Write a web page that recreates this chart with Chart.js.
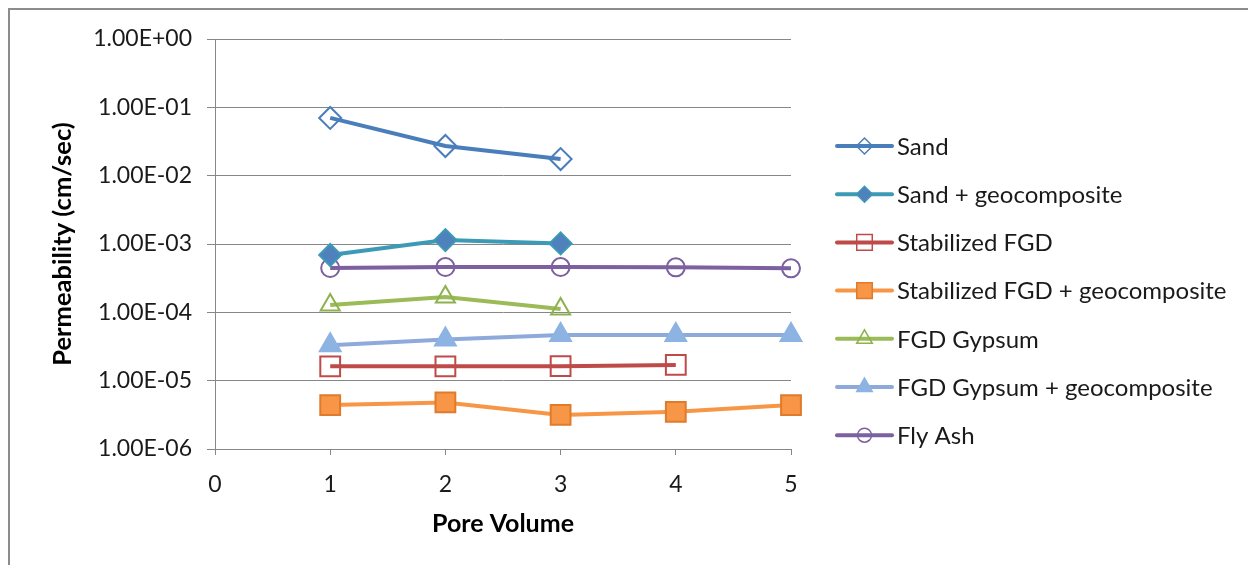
<!DOCTYPE html>
<html>
<head>
<meta charset="utf-8">
<script src="https://cdn.jsdelivr.net/npm/chart.js@4/dist/chart.umd.min.js"></script>
<style>
  body { margin: 0; background: #fff; }
  #wrap { position: relative; width: 1248px; height: 565px; overflow: hidden; }
  #frame { position: absolute; left: 8px; top: 8px; width: 1300px; height: 600px;
           border-top: 2px solid #8c8c8c; border-left: 2px solid #8c8c8c; }
  canvas { position: absolute; left: 0; top: 0; }
</style>
</head>
<body>
<div id="wrap">
  <div id="frame"></div>
  <canvas id="myChart" width="1248" height="565"></canvas>
</div>
<script>
// pore volume on the x axis
const poreVolume = [1, 2, 3, 4, 5]

// permeability values (cm/sec)
const sand = [7.0e-2, 2.72e-2, 1.75e-2]
const sandGeo = [6.9e-4, 1.14e-3, 1.02e-3]
const stabFGD = [1.62e-5, 1.62e-5, 1.63e-5, 1.70e-5]
const stabFGDGeo = [4.4e-6, 4.8e-6, 3.15e-6, 3.5e-6, 4.4e-6]
const fgdGypsum = [1.28e-4, 1.68e-4, 1.12e-4]
const fgdGypsumGeo = [3.3e-5, 4.0e-5, 4.65e-5, 4.65e-5, 4.65e-5]
const flyAsh = [4.45e-4, 4.6e-4, 4.6e-4, 4.55e-4, 4.4e-4]

const seriesNames = ["Sand", "Sand + geocomposite", "Stabilized FGD", "Stabilized FGD + geocomposite",
    "FGD Gypsum", "FGD Gypsum + geocomposite", "Fly Ash"]

const yTickValues = [1e-6, 1e-5, 1e-4, 1e-3, 1e-2, 1e-1, 1]
const yTickLabels = ["1.00E-06", "1.00E-05", "1.00E-04", "1.00E-03", "1.00E-02", "1.00E-01", "1.00E+00"]

const FONT = "Lato, 'Liberation Sans', sans-serif"
const HOLLOW = "rgba(255,255,255,0)"

function pts(arr) {
    return arr.map((v, i) => ({ x: poreVolume[i], y: v }))
}

// style per series: line colour, marker, marker fill, marker border, marker size
const looks = [
    { line: "#4a7ebb", style: "rectRot", fill: HOLLOW, edge: "#4a7ebb", r: 11, lr: 8 },
    { line: "#3c9ab5", style: "rectRot", fill: "#4f81bd", edge: "#3c9ab5", r: 11, lr: 8 },
    { line: "#be4b48", style: "rect", fill: HOLLOW, edge: "#be4b48", r: 14, lr: 11 },
    { line: "#f79646", style: "rect", fill: "#f79646", edge: "#e07b2c", r: 14, lr: 11 },
    { line: "#9bbb59", style: "triangle", fill: HOLLOW, edge: "#8db14c", r: 11, lr: 9 },
    { line: "#8eaadb", style: "triangle", fill: "#8db3e2", edge: "#8db3e2", r: 12, lr: 9 },
    { line: "#7d60a0", style: "circle", fill: HOLLOW, edge: "#7d60a0", r: 9, lr: 7 },
]

const seriesData = [sand, sandGeo, stabFGD, stabFGDGeo, fgdGypsum, fgdGypsumGeo, flyAsh]

const datasets = seriesData.map((d, i) => ({
    label: seriesNames[i],
    data: pts(d),
    borderColor: looks[i].line,
    borderWidth: 4,
    pointStyle: looks[i].style,
    pointRadius: looks[i].r,
    pointBackgroundColor: looks[i].fill,
    pointBorderColor: looks[i].edge,
    pointBorderWidth: 2,
    tension: 0,
    clip: false,
}))

// legend drawn by hand: a line with the marker on it, then the name
const legendPlugin = {
    id: "lineLegend",
    afterDraw(chart) {
        const ctx = chart.ctx
        const x0 = 837, x1 = 892, top = 146, step = 48.2
        ctx.save()
        ctx.font = "24px " + FONT
        ctx.textBaseline = "middle"
        chart.data.datasets.forEach((ds, i) => {
            const y = top + i * step
            ctx.strokeStyle = looks[i].line
            ctx.lineWidth = 4
            ctx.lineCap = "round"
            ctx.beginPath()
            ctx.moveTo(x0, y)
            ctx.lineTo(x1, y)
            ctx.stroke()
            ctx.fillStyle = looks[i].fill
            ctx.strokeStyle = looks[i].edge
            ctx.lineWidth = 1.5
            Chart.helpers.drawPoint(ctx, { pointStyle: looks[i].style, radius: looks[i].lr, borderWidth: 1.5, rotation: 0 }, (x0 + x1) / 2, y)
            ctx.fillStyle = "#1a1a1a"
            ctx.fillText(ds.label, 897, y + 1)
        })
        ctx.restore()
    }
}

const ctx = document.getElementById("myChart")

new Chart(ctx, {
    type: "line",
    data: { datasets: datasets },
    plugins: [legendPlugin],
    options: {
        responsive: false,
        animation: false,
        layout: { padding: { top: 39, right: 457, left: 0, bottom: 0 } },
        plugins: {
            legend: { display: false },
            tooltip: { enabled: false },
        },
        scales: {
            x: {
                type: "linear",
                min: 0,
                max: 5,
                afterFit: (s) => { s.height = 116 },
                ticks: { stepSize: 1, color: "#1a1a1a", padding: 16, font: { family: FONT, size: 23 } },
                grid: { drawOnChartArea: false, drawTicks: true, tickLength: 6, color: "#878787" },
                border: { color: "#878787", width: 1 },
                title: {
                    display: true,
                    text: "Pore Volume",
                    color: "#000",
                    font: { family: FONT, size: 25, weight: "bold" },
                    padding: { top: 0, bottom: 26 },
                },
            },
            y: {
                type: "logarithmic",
                min: 1e-6,
                max: 1,
                afterFit: (s) => { s.width = 215 },
                afterBuildTicks: (s) => { s.ticks = yTickValues.map(v => ({ value: v, major: true })) },
                ticks: {
                    color: "#1a1a1a",
                    padding: 15,
                    font: { family: FONT, size: 23 },
                    callback: (v, i) => yTickLabels[i],
                },
                grid: { color: "#878787", tickLength: 8, lineWidth: 1 },
                border: { color: "#878787", width: 1 },
                title: {
                    display: true,
                    text: "Permeability (cm/sec)",
                    color: "#000",
                    font: { family: FONT, size: 25.5, weight: "bold" },
                    padding: { top: 47, bottom: 0 },
                },
            },
        },
    },
})
</script>
</body>
</html>
